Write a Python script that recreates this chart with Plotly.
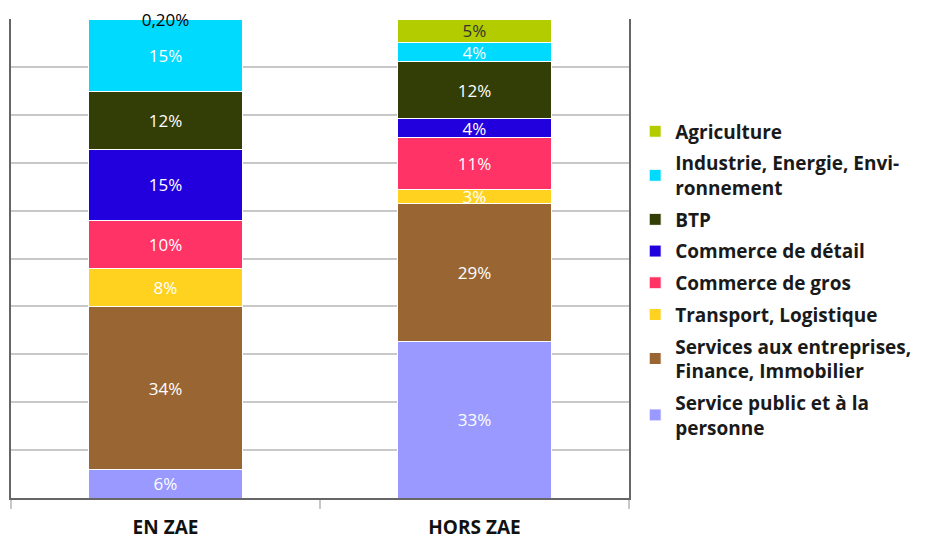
import plotly.graph_objects as go

categories = ["EN ZAE", "HORS ZAE"]

series_names = [
    "Service public et à la<br>personne",
    "Services aux entreprises,<br>Finance, Immobilier",
    "Transport, Logistique",
    "Commerce de gros",
    "Commerce de détail",
    "BTP",
    "Industrie, Energie, Envi-<br>ronnement",
    "Agriculture",
]
service_public = [6, 33]
services_entreprises = [34, 29]
transport = [8, 3]
commerce_gros = [10, 11]
commerce_detail = [15, 4]
btp = [12, 12]
industrie = [15, 4]
agriculture = [0.2, 5]

series_values = [service_public, services_entreprises, transport, commerce_gros,
                 commerce_detail, btp, industrie, agriculture]
colors = ["#9999FF", "#996633", "#FFD21F", "#FF3366", "#2200DD", "#333D06", "#00DAFF", "#B2CC00"]
label_colors = [
    ["white", "white"], ["white", "white"], ["white", "white"], ["white", "white"],
    ["white", "white"], ["white", "white"], ["white", "white"], ["black", "#333333"],
]


def fmt(v):
    if v < 1:
        return f"{v:.2f}".replace(".", ",") + "%"
    return f"{v:g}%"


fig = go.Figure()
n = len(series_names)
for i, (name, vals, col, tcol) in enumerate(zip(series_names, series_values, colors, label_colors)):
    fig.add_trace(go.Bar(
        x=categories, y=vals, name=name,
        marker=dict(color=col, line=dict(color="white", width=1)),
        text=[fmt(v) for v in vals],
        textposition="inside", insidetextanchor="middle",
        constraintext="none", textangle=0,
        textfont=dict(color=tcol, size=17, family="Open Sans"),
        width=0.5, legendgroup=name, legendrank=n - i, cliponaxis=False,
        hoverinfo="skip",
    ))

fig.update_layout(
    barmode="stack", barnorm="percent",
    width=925, height=538,
    margin=dict(l=3, r=304, t=11, b=48),
    paper_bgcolor="white", plot_bgcolor="white",
    font=dict(family="Open Sans", color="#222222"),
    showlegend=True,
    legend=dict(
        x=1.01, xanchor="left", y=0.805, yanchor="top",
        traceorder="grouped", tracegroupgap=4,
        font=dict(size=19, family="Open Sans", color="#1a1a1a", weight="bold"),
        bgcolor="rgba(0,0,0,0)",
    ),
    uniformtext=dict(mode=False),
)
fig.update_xaxes(
    showline=True, linecolor="#666666", linewidth=2,
    ticks="outside", tickson="boundaries", ticklen=9, tickcolor="#c8c8c8", tickwidth=2,
    ticklabelstandoff=11,
    tickfont=dict(size=19, family="Open Sans", color="#111111", weight="bold"),
    showgrid=False,
)
fig.update_yaxes(
    range=[0, 100], dtick=10,
    showgrid=True, gridcolor="#c8c8c8", gridwidth=2,
    showline=True, linecolor="#666666", linewidth=2, mirror=True,
    showticklabels=False, ticks="", zeroline=False,
)

fig.write_html("out.html")
